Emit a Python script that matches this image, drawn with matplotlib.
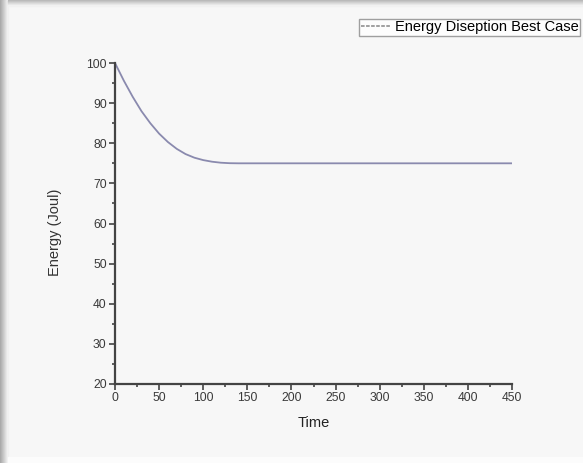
import numpy as np
import matplotlib
matplotlib.use("Agg")
import matplotlib.pyplot as plt
from matplotlib.patches import Rectangle
from matplotlib.ticker import MultipleLocator

plt.rcParams['font.family'] = ['Liberation Sans', 'DejaVu Sans']

# values
time = [0, 10, 20, 30, 40, 50, 60, 70, 80, 90, 100, 110, 120, 130, 140, 450]
energy = [100, 95.6, 91.6, 88.0, 85.0, 82.4, 80.3, 78.6, 77.3, 76.4,
          75.8, 75.4, 75.15, 75.03, 75.0, 75.0]
x_ticks = [0, 50, 100, 150, 200, 250, 300, 350, 400, 450]
y_ticks = [20, 30, 40, 50, 60, 70, 80, 90, 100]
series_name = "Energy Diseption Best Case"

fig = plt.figure(figsize=(5.83, 4.63), dpi=100)
fig.patch.set_facecolor('#f7f7f7')

# shadow band on the left and top of the picture
for i in range(8):
    g = 0.66 + i * 0.04
    fig.patches.append(Rectangle((i / 583, 0), 1 / 583, 1, transform=fig.transFigure,
                                 color=(g, g, g), zorder=0))
for i in range(6):
    g = 0.72 + i * 0.045
    fig.patches.append(Rectangle((8 / 583, 1 - (i + 1) / 463), 1, 1 / 463,
                                 transform=fig.transFigure, color=(g, g, g), zorder=0))
fig.patches.append(Rectangle((8 / 583, 0), 1, 6 / 463, transform=fig.transFigure,
                             color='#fcfcfc', zorder=0))

ax = fig.add_axes([115 / 583, 1 - 384 / 463, (512 - 115) / 583, (384 - 63) / 463])
ax.set_facecolor('none')
line, = ax.plot(time, energy, color='#8a8aae', lw=1.3, label=series_name)

ax.set_xlim(0, 450)
ax.set_ylim(20, 100)
ax.set_xticks(x_ticks)
ax.set_yticks(y_ticks)
ax.xaxis.set_minor_locator(MultipleLocator(25))
ax.yaxis.set_minor_locator(MultipleLocator(5))

for s in ['top', 'right']:
    ax.spines[s].set_visible(False)
for s in ['left', 'bottom']:
    ax.spines[s].set_color('#444444')
    ax.spines[s].set_linewidth(1.6)

ax.tick_params(which='major', direction='out', length=4, width=1.2, color='#444444',
               labelsize=8.7, labelcolor='#3a3a3a', pad=2)
ax.tick_params(which='minor', direction='out', length=2.5, width=1.2, color='#444444')

ax.set_xlabel("Time", fontsize=10.5, color='#222222', va='center')
ax.set_ylabel("Energy (Joul)", fontsize=10.5, color='#333333', va='center')
ax.xaxis.set_label_coords(0.5, -(423 - 384) / 321)
ax.yaxis.set_label_coords((55 - 115) / 397, 1 - (232 - 63) / 321)

leg = fig.legend(handles=[line], loc='upper right', bbox_to_anchor=(580 / 583, 1 - 19 / 463),
                 fontsize=10.5, frameon=True, fancybox=False, handlelength=2.0,
                 borderpad=0.1, handletextpad=0.35, borderaxespad=0)
leg.get_frame().set_edgecolor('#888888')
leg.get_frame().set_facecolor('white')
leg.get_frame().set_linewidth(1.0)
leg.get_lines()[0].set_color('#999999')
leg.get_lines()[0].set_linestyle((0, (2, 0.8)))

fig.savefig("out.png", dpi=100, facecolor=fig.get_facecolor())
